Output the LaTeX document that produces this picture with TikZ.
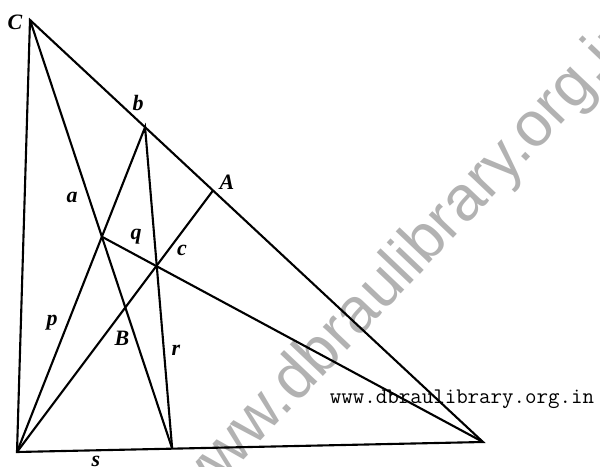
\documentclass[tikz,border=0pt]{standalone}
\usepackage{fontspec}
\setmainfont{Liberation Serif}
\newfontfamily\markfont{Liberation Sans}
\usetikzlibrary{calc}

\begin{document}
\begin{tikzpicture}[x=0.02cm, y=-0.02cm, line width=1.2pt,
    lbl/.style={inner sep=0pt, font=\fontsize{12.5}{14}\selectfont\bfseries\itshape}]
    \useasboundingbox (0,0) rectangle (600,467);
    \clip (0,0) rectangle (600,467);

    % watermark
    \node[text=black!30, rotate=46.5, font=\markfont\fontsize{36}{40}\selectfont] (mark) at (406,265) {www.dbraulibrary.org.in};

    \coordinate (C) at (30,20);
    \coordinate (L) at (17,452);
    \coordinate (R) at (483,442);
    \coordinate (b) at ($(C)!0.254!(R)$);
    \coordinate (A) at ($(C)!0.404!(R)$);
    \coordinate (F) at ($(L)!0.333!(R)$);
    \coordinate (P) at (intersection of C--F and L--b);
    \coordinate (c) at (intersection of L--A and b--F);
    \coordinate (B) at (intersection of C--F and L--A);

    \draw (C) -- (L) -- (R) -- cycle;
    \draw (C) -- (F);
    \draw (L) -- (b) -- (F);
    \draw (L) -- (A);
    \draw (P) -- (R);

    \node[lbl] (lC) at (15,22) {C};
    \node[lbl] (lb) at (138,103) {b};
    \node[lbl] (lA) at (227,182) {A};
    \node[lbl] (la) at (72,197) {a};
    \node[lbl] (lq) at (136,237) {q};
    \node[lbl] (lc) at (182,250) {c};
    \node[lbl] (lp) at (52,323) {p};
    \node[lbl] (lB) at (122,338) {B};
    \node[lbl] (lr) at (176,350) {r};
    \node[lbl] (ls) at (96,461) {s};

    \node[inner sep=0pt, anchor=base, font=\ttfamily\fontsize{12.7}{14}\selectfont] (site) at (462,403) {www.dbraulibrary.org.in};
\end{tikzpicture}
\end{document}
